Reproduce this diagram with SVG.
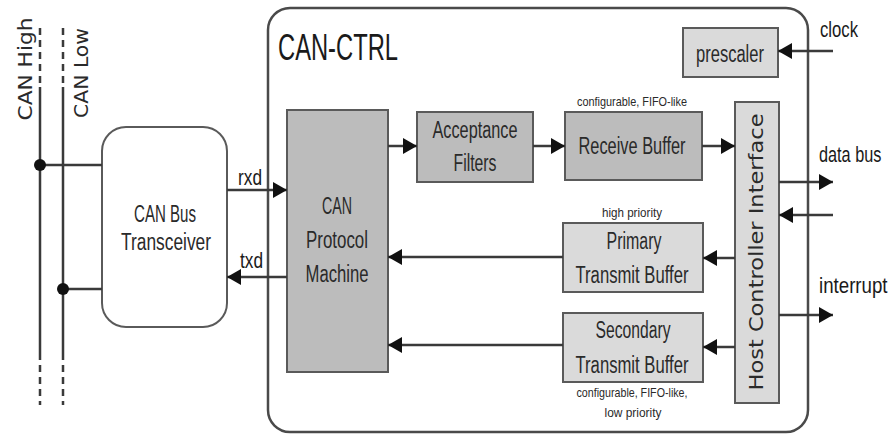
<svg xmlns="http://www.w3.org/2000/svg" width="889" height="434" viewBox="0 0 889 434">
  <style>
    .box { stroke: #5a5a5a; stroke-width: 2; }
    .dark { fill: #bcbcbc; }
    .light { fill: #dadada; }
    .outer { fill: #ffffff; stroke: #4a4a4a; stroke-width: 2.5; }
    .wire { stroke: #3a3a3a; stroke-width: 2.5; fill: none; }
    .dash { stroke: #3a3a3a; stroke-width: 2.5; fill: none; stroke-dasharray: 7 5; }
    .lbl { font-family: "Liberation Sans", Arial, sans-serif; font-size: 23px; fill: #2a2a2a; text-anchor: middle; }
    .ext { font-family: "Liberation Sans", Arial, sans-serif; font-size: 22px; fill: #1a1a1a; }
    .note { font-family: "Liberation Sans", Arial, sans-serif; font-size: 13px; fill: #2a2a2a; text-anchor: middle; }
    .vert { font-family: "DejaVu Sans", Verdana, sans-serif; font-size: 19px; fill: #2a2a2a; text-anchor: middle; }
    .title { font-family: "Liberation Sans", Arial, sans-serif; font-size: 36px; fill: #1a1a1a; }
  </style>
  <defs>
    <marker id="arrow" markerUnits="userSpaceOnUse" markerWidth="15" markerHeight="18" refX="14" refY="8" orient="auto">
      <path d="M0,0 L14,8 L0,16 z" fill="#111111"/>
    </marker>
  </defs>

  <!-- controller frame -->
  <g id="can-ctrl">
    <rect class="outer" x="268" y="8" width="540" height="424" rx="22" ry="22"/>
    <text class="title" x="278" y="60" textLength="120" lengthAdjust="spacingAndGlyphs">CAN-CTRL</text>
  </g>

  <!-- bus lines -->
  <g id="can-high">
    <line class="dash" x1="40" y1="28" x2="40" y2="87"/>
    <line class="wire" x1="40" y1="87" x2="40" y2="353"/>
    <line class="dash" x1="40" y1="353" x2="40" y2="405"/>
    <text class="vert" transform="translate(32,69) rotate(-90)" textLength="103" lengthAdjust="spacingAndGlyphs">CAN High</text>
  </g>
  <g id="can-low">
    <line class="dash" x1="63" y1="28" x2="63" y2="87"/>
    <line class="wire" x1="63" y1="87" x2="63" y2="353"/>
    <line class="dash" x1="63" y1="353" x2="63" y2="405"/>
    <text class="vert" transform="translate(88,73) rotate(-90)" textLength="90" lengthAdjust="spacingAndGlyphs">CAN Low</text>
  </g>

  <g id="transceiver">
    <rect class="box" fill="#ffffff" x="102" y="127" width="125" height="200" rx="24" ry="24"/>
    <text class="lbl" x="165" y="222" textLength="62" lengthAdjust="spacingAndGlyphs">CAN Bus</text>
    <text class="lbl" x="166" y="250" textLength="90" lengthAdjust="spacingAndGlyphs">Transceiver</text>
  </g>

  <g id="protocol-machine">
    <rect class="box dark" x="287" y="110" width="101" height="262"/>
    <text class="lbl" x="337" y="214" textLength="30" lengthAdjust="spacingAndGlyphs">CAN</text>
    <text class="lbl" x="337" y="248" textLength="62" lengthAdjust="spacingAndGlyphs">Protocol</text>
    <text class="lbl" x="337" y="282" textLength="63" lengthAdjust="spacingAndGlyphs">Machine</text>
  </g>

  <g id="acceptance-filters">
    <rect class="box dark" x="417" y="112" width="116" height="70"/>
    <text class="lbl" x="475" y="138" textLength="85" lengthAdjust="spacingAndGlyphs">Acceptance</text>
    <text class="lbl" x="475" y="171" textLength="43" lengthAdjust="spacingAndGlyphs">Filters</text>
  </g>

  <g id="receive-buffer">
    <text class="note" x="632" y="106" textLength="110" lengthAdjust="spacingAndGlyphs">configurable, FIFO-like</text>
    <rect class="box dark" x="565" y="112" width="137" height="68"/>
    <text class="lbl" x="632" y="154" textLength="107" lengthAdjust="spacingAndGlyphs">Receive Buffer</text>
  </g>

  <g id="primary-buffer">
    <text class="note" x="632" y="217" textLength="60" lengthAdjust="spacingAndGlyphs">high priority</text>
    <rect class="box light" x="563" y="223" width="140" height="69"/>
    <text class="lbl" x="634" y="249" textLength="55" lengthAdjust="spacingAndGlyphs">Primary</text>
    <text class="lbl" x="632" y="283" textLength="113" lengthAdjust="spacingAndGlyphs">Transmit Buffer</text>
  </g>

  <g id="secondary-buffer">
    <rect class="box light" x="563" y="313" width="140" height="69"/>
    <text class="lbl" x="633" y="338" textLength="75" lengthAdjust="spacingAndGlyphs">Secondary</text>
    <text class="lbl" x="632" y="373" textLength="113" lengthAdjust="spacingAndGlyphs">Transmit Buffer</text>
    <text class="note" x="632" y="397" textLength="111" lengthAdjust="spacingAndGlyphs">configurable, FIFO-like,</text>
    <text class="note" x="633" y="417" textLength="57" lengthAdjust="spacingAndGlyphs">low priority</text>
  </g>

  <g id="host-interface">
    <rect class="box light" x="735" y="102" width="44" height="301"/>
    <text class="vert" transform="translate(763,252) rotate(-90)" textLength="277" lengthAdjust="spacingAndGlyphs">Host Controller Interface</text>
  </g>

  <g id="prescaler">
    <rect class="box light" x="683" y="28" width="95" height="49"/>
    <text class="lbl" x="730" y="62" textLength="68" lengthAdjust="spacingAndGlyphs">prescaler</text>
  </g>

  <!-- external signal names (narrowed with a horizontal scale) -->
  <g id="signals">
    <text class="ext" x="820" y="37" textLength="38" lengthAdjust="spacingAndGlyphs">clock</text>
    <text class="ext" transform="translate(819,162) scale(0.74,1)">data bus</text>
    <text class="ext" transform="translate(819,293) scale(0.85,1)">interrupt</text>
    <text class="ext" x="238" y="185" textLength="24" lengthAdjust="spacingAndGlyphs">rxd</text>
    <text class="ext" x="240" y="268" textLength="23" lengthAdjust="spacingAndGlyphs">txd</text>
  </g>

  <g id="connectors">
    <!-- bus taps -->
    <line class="wire" x1="40" y1="165" x2="102" y2="165"/>
    <line class="wire" x1="63" y1="289" x2="102" y2="289"/>
    <circle cx="40" cy="165" r="6" fill="#111111"/>
    <circle cx="63" cy="289" r="6" fill="#111111"/>
    <!-- transceiver link -->
    <line class="wire" x1="227" y1="190" x2="287" y2="190" marker-end="url(#arrow)"/>
    <line class="wire" x1="287" y1="277" x2="227" y2="277" marker-end="url(#arrow)"/>
    <!-- receive path -->
    <line class="wire" x1="388" y1="146" x2="417" y2="146" marker-end="url(#arrow)"/>
    <line class="wire" x1="533" y1="146" x2="565" y2="146" marker-end="url(#arrow)"/>
    <line class="wire" x1="702" y1="146" x2="735" y2="146" marker-end="url(#arrow)"/>
    <!-- transmit path -->
    <line class="wire" x1="735" y1="258" x2="703" y2="258" marker-end="url(#arrow)"/>
    <line class="wire" x1="563" y1="257" x2="388" y2="257" marker-end="url(#arrow)"/>
    <line class="wire" x1="735" y1="347" x2="703" y2="347" marker-end="url(#arrow)"/>
    <line class="wire" x1="563" y1="345" x2="388" y2="345" marker-end="url(#arrow)"/>
    <!-- host side -->
    <line class="wire" x1="779" y1="182" x2="833" y2="182" marker-end="url(#arrow)"/>
    <line class="wire" x1="833" y1="215" x2="779" y2="215" marker-end="url(#arrow)"/>
    <line class="wire" x1="779" y1="315" x2="833" y2="315" marker-end="url(#arrow)"/>
    <line class="wire" x1="833" y1="51" x2="778" y2="51" marker-end="url(#arrow)"/>
  </g>
</svg>
